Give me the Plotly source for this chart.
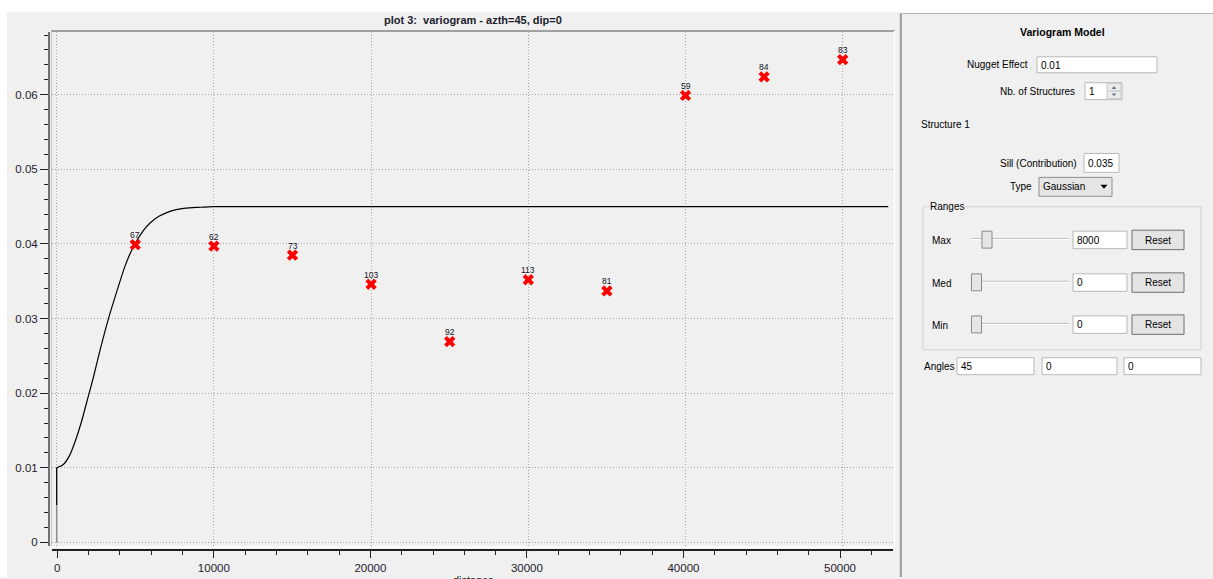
import plotly.graph_objects as go

W, H = 1213, 579

# ---------------- data ----------------
lag_distance = [5000, 10000, 15000, 20000, 25000, 30000, 35000, 40000, 45000, 50000]
variogram_value = [0.0399, 0.0397, 0.0385, 0.0346, 0.0269, 0.0352, 0.0337, 0.0599, 0.0624, 0.0647]
pair_count = [67, 62, 73, 103, 92, 113, 81, 59, 84, 83]

model_distance = [0, 400, 830, 1250, 1580, 2000, 2320, 2750, 3280, 3700, 4340,
                  4870, 5510, 5940, 6500, 7000, 7600, 8200, 9000, 10000, 52900]
model_value = [0.0100, 0.0104, 0.0117, 0.0140, 0.0162, 0.0195, 0.0220, 0.0257, 0.0299, 0.0328, 0.0370,
               0.0396, 0.0418, 0.0428, 0.0437, 0.0442, 0.0446, 0.0448, 0.0449, 0.0450, 0.0450]
nugget_low_distance = [0, 0]
nugget_low_value = [0, 0.005]
nugget_high_distance = [0, 0]
nugget_high_value = [0.005, 0.010]

chart_title = "plot 3:\u00a0 variogram - azth=45, dip=0"
x_title = "distance"

FONT = "Liberation Sans"
TXT = "#1c1c2c"


def fx(p):
    return p / W


def fy(p):
    return 1 - p / H


shapes = []
annotations = []


def rect(x0, y0, x1, y1, fill="white", line="#b8b8b8", lw=1, layer="above"):
    shapes.append(dict(type="rect", xref="paper", yref="paper",
                       x0=fx(x0), x1=fx(x1), y0=fy(y1), y1=fy(y0),
                       fillcolor=fill, line=dict(color=line, width=lw), layer=layer))


def seg(x0, y0, x1, y1, color, lw=1, layer="above"):
    shapes.append(dict(type="line", xref="paper", yref="paper",
                       x0=fx(x0), x1=fx(x1), y0=fy(y0), y1=fy(y1),
                       line=dict(color=color, width=lw), layer=layer))


def tri(cx, cy, w, h, up, color):
    if up:
        pts = [(cx - w / 2, cy + h / 2), (cx + w / 2, cy + h / 2), (cx, cy - h / 2)]
    else:
        pts = [(cx - w / 2, cy - h / 2), (cx + w / 2, cy - h / 2), (cx, cy + h / 2)]
    path = "M " + " L ".join(f"{fx(a):.5f},{fy(b):.5f}" for a, b in pts) + " Z"
    shapes.append(dict(type="path", xref="paper", yref="paper", path=path,
                       fillcolor=color, line=dict(color=color, width=0)))


def text(x, y, s, anchor="left", size=10, bold=False, bg=None, color="#000000"):
    annotations.append(dict(xref="paper", yref="paper", x=fx(x), y=fy(y),
                            text=f"<b>{s}</b>" if bold else s, showarrow=False,
                            xanchor=anchor, yanchor="middle", borderpad=0,
                            bgcolor=bg if bg else "rgba(0,0,0,0)",
                            font=dict(family=FONT, size=size, color=color)))


# ---------------- window background ----------------
rect(0, 0, W, 12, fill="white", line="white", lw=0, layer="below")
rect(0, 0, 7, H, fill="white", line="white", lw=0, layer="below")
rect(900, 0, W, 13, fill="white", line="white", lw=0, layer="below")

# plot canvas frame
seg(51, 31, 895, 31, "#a0a0a0", 2, layer="below")
seg(51.5, 31, 51.5, 549, "#c8c8c8", 1, layer="below")
seg(894.5, 31, 894.5, 549, "white", 1.5, layer="below")
seg(51, 549, 895, 549, "white", 1.5, layer="below")

# ---------------- right panel ----------------
seg(900.8, 13, 900.8, H, "#9a9a9a", 2)
seg(900, 13.5, W, 13.5, "#b4b4b4", 1)

text(1062, 32, "Variogram Model", anchor="center", size=10.5, bold=True)

text(1029, 65, "Nugget Effect", anchor="right")
rect(1037, 57, 1157, 73)
text(1040, 65.5, "0.01")

text(1076, 91.5, "Nb. of Structures", anchor="right")
rect(1085, 83, 1122, 100)
text(1088, 92, "1")
rect(1107, 84, 1121, 91.5, fill="#ececec", line="#c8c8c8")
rect(1107, 91.5, 1121, 99, fill="#ececec", line="#c8c8c8")
tri(1114, 87.8, 5, 3, True, "#6a7f95")
tri(1114, 95.2, 5, 3, False, "#6a7f95")

text(920, 124.5, "Structure 1")

text(1078, 164, "Sill (Contribution)", anchor="right")
rect(1084, 154, 1119, 173)
text(1087, 164.5, "0.035")

text(1033, 187.5, "Type", anchor="right")
rect(1039, 178, 1112, 197, fill="#e6e6e6", line="#8e8f8f")
text(1042, 187.5, "Gaussian")
tri(1104, 187.5, 7, 4, False, "#000000")

# Ranges group box
rect(923, 207.5, 1201, 351, fill="rgba(0,0,0,0)", line="#d2d2d2")
text(929, 207.5, "Ranges", bg="#f0f0f0")

rows = [("Max", 240.5, 982, "8000"), ("Med", 283.3, 971.5, "0"), ("Min", 325.5, 971.5, "0")]
for label, c, hx, val in rows:
    text(931, c + 1.2, label)
    seg(971, c - 1, 1069, c - 1, "#b8b8b8", 1)
    seg(971, c, 1069, c, "#ffffff", 1)
    rect(hx, c - 8.5, hx + 10, c + 8.5, fill="#e6e6e6", line="#8a8a8a")
    rect(1073, c - 8.5, 1127, c + 9)
    text(1076, c + 0.5, val)
    rect(1132, c - 9.5, 1184, c + 10, fill="#e4e4e4", line="#707070")
    text(1158, c + 0.5, "Reset", anchor="center")

text(922.5, 368, "Angles")
rect(957, 359, 1034, 376)
rect(1042, 359, 1117, 376)
rect(1124, 359, 1201, 376)
text(960, 368, "45")
text(1045, 368, "0")
text(1127, 368, "0")

# ---------------- chart texts ----------------
text(473, 20, chart_title, anchor="center", size=11, bold=True, color=TXT)
annotations.append(dict(xref="paper", yref="paper", x=fx(473), y=fy(574.5), text=x_title,
                        showarrow=False, xanchor="center", yanchor="top", borderpad=0,
                        font=dict(family=FONT, size=11, color=TXT)))

# pair-count labels above each experimental point
for xv, yv, n in zip(lag_distance, variogram_value, pair_count):
    annotations.append(dict(xref="x", yref="y", x=xv, y=yv, text=str(n), showarrow=False,
                            xanchor="center", yanchor="middle", yshift=9.5, borderpad=0,
                            font=dict(family=FONT, size=8.5, color="#10101c")))

# ---------------- traces ----------------
fig = go.Figure()
fig.add_trace(go.Scatter(x=nugget_low_distance, y=nugget_low_value, mode="lines",
                         line=dict(color="#8c8c8c", width=1.5), hoverinfo="skip"))
fig.add_trace(go.Scatter(x=nugget_high_distance, y=nugget_high_value, mode="lines",
                         line=dict(color="#000000", width=1.3), hoverinfo="skip"))
fig.add_trace(go.Scatter(x=model_distance, y=model_value, mode="lines",
                         line=dict(color="#000000", width=1.2, shape="spline", smoothing=0.6)))
fig.add_trace(go.Scatter(x=lag_distance, y=variogram_value, mode="markers",
                         marker=dict(symbol="x", size=10, color="#ff0000", line=dict(width=0)),
                         cliponaxis=False))
# empty trace that registers the tick-only x axis
fig.add_trace(go.Scatter(x=[], y=[], xaxis="x2", yaxis="y", mode="markers", hoverinfo="skip"))

tick_font = dict(family=FONT, size=11.5, color=TXT)
grid = dict(showgrid=True, gridcolor="#a6a6a6", griddash="1px,2px", gridwidth=1, zeroline=False,
            fixedrange=True)

fig.update_layout(
    width=W, height=H, autosize=False,
    margin=dict(l=0, r=0, t=0, b=0, pad=0),
    paper_bgcolor="#f0f0f0", plot_bgcolor="rgba(0,0,0,0)",
    showlegend=False,
    shapes=shapes, annotations=annotations,
    # data / grid x axis (no ticks)
    xaxis=dict(domain=[fx(52), fx(893)], range=[-299, 53200], anchor="y",
               showline=False, ticks="", showticklabels=False,
               tickmode="linear", tick0=0, dtick=10000, **grid),
    # scale widget: ticks and labels (slightly compressed vs. canvas, as in the reference)
    xaxis2=dict(domain=[fx(52), fx(893)], range=[-339, 53386], anchor="free", position=fy(552),
                overlaying="x", showgrid=False, zeroline=False, fixedrange=True,
                showline=True, linecolor="#202020", linewidth=1.5,
                ticks="outside", ticklen=7, tickwidth=1, tickcolor="#202020",
                tickmode="linear", tick0=0, dtick=10000, tickformat="d", tickfont=tick_font,
                minor=dict(tickmode="linear", tick0=0, dtick=2000, ticks="outside", ticklen=4,
                           tickcolor="#202020", showgrid=False)),
    yaxis=dict(domain=[fy(548), fy(32)], range=[-0.000494, 0.06842], anchor="free", position=fx(49),
               showline=True, linecolor="#707070", linewidth=2,
               ticks="outside", ticklen=8, tickwidth=1, tickcolor="#202020",
               tickmode="linear", tick0=0, dtick=0.01, tickfont=tick_font,
               minor=dict(tickmode="linear", tick0=0, dtick=0.002, ticks="outside", ticklen=4,
                          tickcolor="#202020", showgrid=False),
               **grid),
)

fig.write_html("out.html", config={"displayModeBar": False},
               post_script="document.body.style.margin='0';")
